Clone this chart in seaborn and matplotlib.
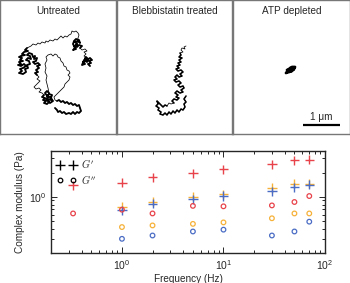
import numpy as np
import pandas as pd
import matplotlib
matplotlib.use("Agg")
import matplotlib.pyplot as plt
import seaborn as sns
from matplotlib.lines import Line2D
from matplotlib.ticker import NullFormatter

# ---- data -------------------------------------------------------------
freq = [0.33, 1, 2, 5, 10, 30, 50, 70]
treatments = ["Untreated", "Blebbistatin treated", "ATP depleted"]
colors = ["#e8424a", "#f6b138", "#4a6cc4"]

g1_untreated = [1.38, 1.50, 1.74, 1.95, 2.19, 2.53, 2.83, 2.88]
g2_untreated = [0.62, 0.69, 0.62, 0.77, 0.76, 0.78, 0.86, 1.02]
g1_blebb = [np.nan, 0.75, 0.87, 1.00, 1.07, 1.28, 1.45, 1.46]
g2_blebb = [np.nan, 0.42, 0.44, 0.46, 0.48, 0.54, 0.62, 0.62]
g1_atp = [np.nan, 0.68, 0.82, 0.93, 1.02, 1.17, 1.31, 1.41]
g2_atp = [np.nan, 0.30, 0.33, 0.37, 0.39, 0.33, 0.37, 0.49]

# bead tracks in image pixels inside each box (scale bar: 1 um = 37 px)
track_untreated = [
    (90, 66), (88, 64), (91, 63), (89, 61), (92, 60), (90, 58), (87, 60), (85, 58), (86, 61), (83, 62),
    (85, 64), (82, 65), (84, 60), (87, 62), (88, 59), (86, 57), (84, 56), (86, 54), (84, 52), (87, 51),
    (85, 49), (82, 50), (80, 48), (82, 46), (79, 45), (77, 47), (75, 46), (77, 44), (75, 42), (78, 41),
    (80, 43), (79, 40), (76, 39), (74, 41), (73, 44), (75, 48), (73, 50), (76, 49), (74, 46), (77, 45),
    (78, 38), (79, 35), (78, 33), (76, 31), (74, 32), (72, 31), (71, 34), (69, 35), (67, 37), (65, 36),
    (63, 38), (61, 36), (59, 38), (57, 40), (55, 39), (53, 41), (50, 40), (48, 42), (46, 41), (45, 43),
    (42, 42), (40, 44), (38, 43), (36, 45), (33, 44), (31, 46), (29, 47),
    (27, 48), (25, 50), (28, 51), (24, 52), (22, 54), (25, 55), (21, 56), (19, 57), (22, 58), (20, 60),
    (23, 61), (19, 62), (21, 64), (18, 65), (21, 66), (24, 64), (26, 66), (23, 68), (20, 69), (22, 71),
    (19, 73), (23, 74), (26, 72), (25, 69), (28, 68), (27, 65), (30, 64), (29, 61), (26, 60), (28, 58),
    (31, 59), (30, 56), (27, 55), (29, 53), (32, 54), (33, 57), (35, 56), (34, 59), (37, 58), (36, 61),
    (33, 62), (35, 64), (38, 63), (40, 65), (37, 66), (39, 68), (36, 70), (38, 72), (35, 73), (37, 75),
    (39, 77), (37, 79), (40, 81), (38, 83), (36, 85), (34, 87), (36, 89), (39, 88), (41, 90), (39, 92),
    (42, 93), (44, 95), (42, 97), (45, 98), (43, 100), (46, 101), (44, 103), (47, 104), (49, 102),
    (48, 99), (51, 100), (50, 97), (47, 96), (49, 94), (52, 95), (51, 98), (53, 101), (50, 103), (46, 99),
    (48, 97), (45, 93), (47, 91), (49, 93),
    (48, 88), (47, 84), (46, 80), (47, 76), (45, 72), (46, 68), (45, 64), (47, 60), (46, 57), (48, 55),
    (51, 54), (53, 56), (55, 54), (57, 55), (58, 57), (60, 58), (61, 61), (63, 63), (64, 66), (66, 67),
    (67, 70), (69, 71), (70, 73), (68, 75), (70, 77), (69, 80), (67, 82), (65, 84), (64, 87), (62, 89),
    (60, 91), (58, 93), (56, 95), (54, 97), (55, 100),
    (57, 101), (59, 100), (61, 102), (63, 101), (65, 103), (67, 102), (69, 104), (71, 103), (73, 105),
    (75, 104), (77, 106), (79, 105), (80, 108), (81, 111), (79, 113), (77, 112), (75, 114), (73, 112),
    (71, 114), (69, 113), (66, 114), (64, 112), (62, 113), (60, 111), (58, 112), (57, 110), (55, 108),
]
track_blebb = [
    (69, 46), (67, 47), (68, 49), (65, 48), (64, 50), (66, 52), (63, 53), (64, 55), (62, 57), (65, 58),
    (62, 60), (64, 62), (61, 63), (63, 65), (60, 66), (62, 68), (59, 69), (61, 71), (64, 70), (66, 72),
    (63, 74), (65, 76), (62, 77), (60, 75), (58, 77), (60, 79), (57, 80), (59, 82), (62, 81), (64, 83),
    (61, 85), (63, 87), (66, 86), (67, 88), (64, 90), (66, 92), (63, 93), (60, 91), (58, 93), (61, 95),
    (59, 97), (62, 98), (60, 100), (57, 99), (55, 101), (57, 103), (54, 104), (52, 103), (50, 106),
    (48, 105), (46, 107), (44, 105), (42, 103), (40, 101), (41, 104), (39, 106), (42, 108), (41, 110),
    (44, 112), (43, 114), (46, 115), (48, 113), (50, 115), (52, 112), (54, 114), (56, 111), (58, 113),
    (60, 110), (62, 112), (64, 109), (66, 110), (68, 107), (67, 104), (69, 102), (67, 99), (69, 96),
]
track_atp = [
    (53, 73), (56, 71), (54, 70), (57, 69), (59, 71), (56, 72), (58, 68), (61, 68), (60, 70), (62, 67),
    (59, 67), (57, 70), (55, 72), (58, 71), (60, 69), (57, 68), (54, 72), (56, 70), (59, 69), (61, 69),
]
# stretches of each track where the bead jiggled in place (drawn heavier)
dense_untreated = [(0, 16), (22, 40), (67, 117), (128, 150), (185, 212)]
dense_blebb = [(6, 46), (48, 76)]
dense_atp = [(0, 20)]

# ---- tidy table for seaborn --------------------------------------------
rows = []
for name, g1, g2 in zip(treatments, [g1_untreated, g1_blebb, g1_atp], [g2_untreated, g2_blebb, g2_atp]):
    for f, a, b in zip(freq, g1, g2):
        rows.append({"freq": f, "treatment": name, "modulus": "G1", "value": a})
        rows.append({"freq": f, "treatment": name, "modulus": "G2", "value": b})
df = pd.DataFrame(rows).dropna()

sns.set_style("ticks")
plt.rcParams["font.family"] = ["Liberation Sans", "DejaVu Sans"]
plt.rcParams["mathtext.fontset"] = "cm"

W, H = 350, 283
fig = plt.figure(figsize=(3.5, 2.83), dpi=100)

# ---- top: trajectories ---------------------------------------------------
boxes = [(0, 116), (117, 115), (233, 117)]
tracks = [track_untreated, track_blebb, track_atp]
dense = [dense_untreated, dense_blebb, dense_atp]
heavy = [1.3, 1.1, 2.0]
for i, ((left, width), name, tr) in enumerate(zip(boxes, treatments, tracks)):
    ax = fig.add_axes([left / W, (H - 134) / H, width / W, 134 / H])
    t = pd.DataFrame(tr, columns=["x", "y"])
    sns.lineplot(data=t, x="x", y="y", sort=False, estimator=None, color="black",
                 lw=0.55, ax=ax)
    for a, b in dense[i]:
        sns.lineplot(data=t.iloc[a:b], x="x", y="y", sort=False, estimator=None,
                     color="black", lw=heavy[i], ax=ax)
    ax.set_xlim(0, width)
    ax.set_ylim(134, 0)
    ax.set_xticks([])
    ax.set_yticks([])
    ax.set_xlabel("")
    ax.set_ylabel("")
    for s in ax.spines.values():
        s.set_color("#777777")
        s.set_linewidth(1.0)
    ax.text(width / 2, 11, name, ha="center", va="center", fontsize=7.2)
    if i == 2:
        ax.plot([70, 107], [125, 125], color="black", lw=1.6, solid_capstyle="butt")
        ax.text(88.5, 117, "1 \u03bcm", ha="center", va="center", fontsize=7.2)

# ---- bottom: complex modulus ---------------------------------------------
ax = fig.add_axes([51 / W, (H - 253) / H, 274 / W, 102 / H])
pal = dict(zip(treatments, colors))
sns.scatterplot(data=df[df.modulus == "G1"], x="freq", y="value", hue="treatment", palette=pal,
                marker="+", s=45, linewidth=1.0, legend=False, ax=ax)
sns.scatterplot(data=df[df.modulus == "G2"], x="freq", y="value", hue="treatment", palette=pal,
                marker="o", s=11, linewidth=0.9, legend=False, ax=ax)
coll = ax.collections[-1]
coll.set_edgecolors(coll.get_facecolors())
coll.set_facecolors("none")

ax.set_xscale("log")
ax.set_yscale("log")
ax.set_xlim(0.2, 100)
ax.set_ylim(0.2, 3.7)
ax.yaxis.set_minor_formatter(NullFormatter())
ax.xaxis.set_minor_formatter(NullFormatter())
ax.tick_params(which="both", direction="in", top=True, right=True, labelsize=7.5, width=0.7)
ax.tick_params(which="major", length=4)
ax.tick_params(which="minor", length=2)
for s in ax.spines.values():
    s.set_linewidth(1.0)
ax.set_xlabel("Frequency (Hz)", fontsize=7.2, labelpad=2)
ax.set_ylabel("Complex modulus (Pa)", fontsize=7.2, labelpad=3)

handles = [Line2D([], [], marker="+", color="black", ls="none", ms=6.5, mew=1.0),
           Line2D([], [], marker="o", mfc="none", mec="black", ls="none", ms=3.3, mew=0.9)]
ax.legend(handles, ["$G'$", "$G''$"], loc="upper left", frameon=False, numpoints=2,
          fontsize=7.5, handlelength=1.8, handletextpad=0.5, borderaxespad=0.2,
          labelspacing=0.25)

fig.savefig("out.png", dpi=100)
